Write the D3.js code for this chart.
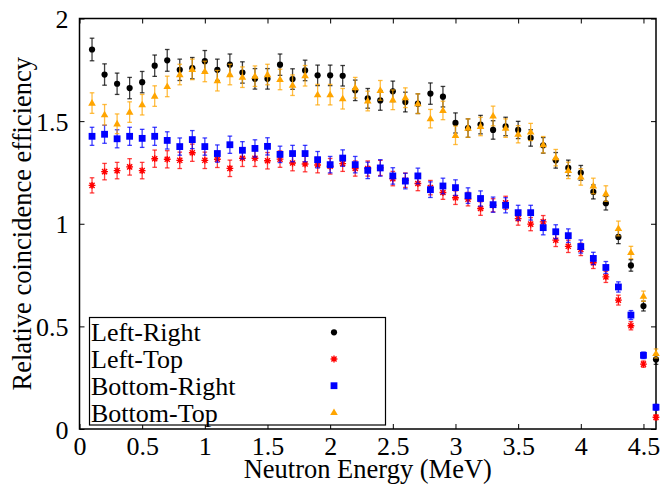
<!DOCTYPE html>
<html>
<head>
<meta charset="utf-8">
<script src="https://cdn.jsdelivr.net/npm/d3@7"></script>
<style>
  body { margin: 0; background: #fff; }
  svg { display: block; }
</style>
</head>
<body>
<div id="graph"></div>
<script>
// neutron energy bins (MeV)
const energy = [0.1, 0.2, 0.3, 0.4, 0.5, 0.6, 0.7, 0.8, 0.9, 1.0,
  1.1, 1.2, 1.3, 1.4, 1.5, 1.6, 1.7, 1.8, 1.9, 2.0,
  2.1, 2.2, 2.3, 2.4, 2.5, 2.6, 2.7, 2.8, 2.9, 3.0,
  3.1, 3.2, 3.3, 3.4, 3.5, 3.6, 3.7, 3.8, 3.9, 4.0,
  4.1, 4.2, 4.3, 4.4, 4.5, 4.6];

const leftRight = [1.849, 1.727, 1.682, 1.661, 1.690, 1.770, 1.796, 1.750, 1.758, 1.792,
  1.750, 1.775, 1.737, 1.706, 1.706, 1.775, 1.705, 1.747, 1.723, 1.723,
  1.721, 1.650, 1.611, 1.601, 1.645, 1.593, 1.585, 1.634, 1.619, 1.491,
  1.466, 1.483, 1.457, 1.474, 1.457, 1.418, 1.382, 1.309, 1.272, 1.248,
  1.155, 1.100, 0.936, 0.797, 0.599, 0.339];
const leftRightErr = [0.055, 0.052, 0.052, 0.052, 0.052, 0.052, 0.053, 0.052, 0.052, 0.052,
  0.052, 0.052, 0.052, 0.050, 0.050, 0.052, 0.050, 0.050, 0.050, 0.050,
  0.050, 0.050, 0.048, 0.048, 0.050, 0.048, 0.048, 0.052, 0.050, 0.049,
  0.045, 0.045, 0.045, 0.045, 0.042, 0.040, 0.038, 0.038, 0.038, 0.036,
  0.034, 0.033, 0.033, 0.028, 0.024, 0.024];

const leftTop = [1.187, 1.254, 1.259, 1.277, 1.259, 1.317, 1.314, 1.309, 1.346, 1.309,
  1.314, 1.270, 1.319, 1.319, 1.307, 1.315, 1.296, 1.291, 1.286, 1.280,
  1.293, 1.269, 1.269, 1.272, 1.220, 1.212, 1.196, 1.176, 1.152, 1.127,
  1.120, 1.074, 1.090, 1.102, 1.025, 0.998, 1.009, 0.920, 0.890, 0.875,
  0.810, 0.741, 0.628, 0.503, 0.316, 0.057];
const leftTopErr = [0.037, 0.040, 0.040, 0.040, 0.040, 0.042, 0.042, 0.040, 0.042, 0.040,
  0.040, 0.040, 0.040, 0.040, 0.040, 0.040, 0.038, 0.038, 0.038, 0.038,
  0.038, 0.037, 0.037, 0.037, 0.035, 0.035, 0.035, 0.035, 0.033, 0.033,
  0.033, 0.033, 0.032, 0.032, 0.032, 0.032, 0.031, 0.031, 0.030, 0.030,
  0.028, 0.027, 0.024, 0.020, 0.015, 0.012];

const bottomRight = [1.426, 1.436, 1.414, 1.426, 1.416, 1.426, 1.406, 1.376, 1.410, 1.376,
  1.342, 1.385, 1.358, 1.367, 1.377, 1.338, 1.342, 1.342, 1.312, 1.288,
  1.320, 1.288, 1.260, 1.272, 1.233, 1.208, 1.233, 1.166, 1.184, 1.176,
  1.137, 1.123, 1.093, 1.090, 1.054, 1.054, 0.981, 0.961, 0.942, 0.889,
  0.831, 0.787, 0.692, 0.555, 0.359, 0.106];
const bottomRightErr = [0.044, 0.044, 0.044, 0.044, 0.044, 0.044, 0.042, 0.042, 0.044, 0.042,
  0.042, 0.042, 0.042, 0.042, 0.042, 0.040, 0.040, 0.040, 0.040, 0.040,
  0.040, 0.040, 0.040, 0.040, 0.040, 0.038, 0.038, 0.038, 0.038, 0.038,
  0.038, 0.037, 0.037, 0.037, 0.036, 0.036, 0.035, 0.034, 0.033, 0.032,
  0.030, 0.029, 0.025, 0.022, 0.016, 0.014];

const bottomTop = [1.588, 1.531, 1.487, 1.544, 1.580, 1.622, 1.669, 1.727, 1.752, 1.742,
  1.697, 1.727, 1.714, 1.719, 1.727, 1.703, 1.675, 1.721, 1.629, 1.629,
  1.609, 1.663, 1.598, 1.650, 1.604, 1.614, 1.585, 1.512, 1.552, 1.431,
  1.466, 1.474, 1.525, 1.466, 1.436, 1.447, 1.385, 1.322, 1.260, 1.228,
  1.184, 1.147, 0.977, 0.860, 0.647, 0.368];
const bottomTopErr = [0.050, 0.050, 0.048, 0.050, 0.050, 0.050, 0.050, 0.050, 0.050, 0.050,
  0.050, 0.050, 0.050, 0.050, 0.050, 0.050, 0.050, 0.050, 0.050, 0.050,
  0.050, 0.050, 0.048, 0.048, 0.048, 0.048, 0.048, 0.045, 0.045, 0.045,
  0.045, 0.045, 0.048, 0.045, 0.042, 0.042, 0.040, 0.040, 0.040, 0.040,
  0.038, 0.038, 0.036, 0.030, 0.025, 0.022];

const xTicks = [0, 0.5, 1, 1.5, 2, 2.5, 3, 3.5, 4, 4.5];
const yTicks = [0, 0.5, 1, 1.5, 2];

const series = [
  {name: "Left-Right", values: leftRight, err: leftRightErr, color: "#000000", shape: "circle"},
  {name: "Left-Top", values: leftTop, err: leftTopErr, color: "#ff0000", shape: "star"},
  {name: "Bottom-Right", values: bottomRight, err: bottomRightErr, color: "#0000ff", shape: "square"},
  {name: "Bottom-Top", values: bottomTop, err: bottomTopErr, color: "#ffa500", shape: "triangle"}
];

const FONT = "'Liberation Serif', 'Times New Roman', Times, serif";

const W = 660, H = 485;
const margin = {top: 18.5, right: 4, bottom: 56, left: 79.5};
const width = W - margin.left - margin.right;
const height = H - margin.top - margin.bottom;

const x = d3.scaleLinear().domain([0, 4.6]).range([0, width]);
const y = d3.scaleLinear().domain([0, 2]).range([height, 0]);

const svg = d3.select("#graph").append("svg")
  .attr("width", W)
  .attr("height", H)
  .attr("font-family", FONT)
  .append("g")
  .attr("transform", "translate(" + margin.left + "," + margin.top + ")");

// axes with inward ticks, mirrored on top and right
const tickLen = 5;
svg.append("g")
  .attr("transform", "translate(0," + height + ")")
  .call(d3.axisBottom(x).tickValues(xTicks).tickSizeInner(-tickLen).tickSizeOuter(0).tickPadding(8).tickFormat(d3.format("")))
  .call(g => g.select(".domain").remove())
  .call(g => g.attr("font-family", FONT).attr("font-size", 26))
  .call(g => g.selectAll("text").attr("fill", "#000"));
svg.append("g")
  .call(d3.axisTop(x).tickValues(xTicks).tickSizeInner(-tickLen).tickSizeOuter(0).tickFormat(""))
  .call(g => g.select(".domain").remove());
svg.append("g")
  .call(d3.axisLeft(y).tickValues(yTicks).tickSizeInner(-tickLen).tickSizeOuter(0).tickPadding(11).tickFormat(d3.format("")))
  .call(g => g.select(".domain").remove())
  .call(g => g.attr("font-family", FONT).attr("font-size", 26))
  .call(g => g.selectAll("text").attr("fill", "#000").attr("dy", "0.35em"));
svg.append("g")
  .attr("transform", "translate(" + width + ",0)")
  .call(d3.axisRight(y).tickValues(yTicks).tickSizeInner(-tickLen).tickSizeOuter(0).tickFormat(""))
  .call(g => g.select(".domain").remove());

svg.selectAll(".tick line").attr("stroke", "#000").attr("stroke-width", 1);

svg.append("rect")
  .attr("width", width)
  .attr("height", height)
  .attr("fill", "none")
  .attr("stroke", "#000")
  .attr("stroke-width", 1.5);

// axis titles
svg.append("text")
  .attr("x", width / 2)
  .attr("y", height + 49)
  .attr("text-anchor", "middle")
  .attr("font-size", 26.5)
  .text("Neutron Energy (MeV)");
svg.append("text")
  .attr("transform", "translate(" + (31 - margin.left) + "," + (height / 2) + ") rotate(-90)")
  .attr("text-anchor", "middle")
  .attr("font-size", 26.5)
  .text("Relative coincidence efficiency");

// marker drawing
function drawMarker(g, shape, color) {
  if (shape === "circle") {
    g.append("circle").attr("r", 3.1).attr("fill", color);
  } else if (shape === "square") {
    g.append("rect").attr("x", -3.4).attr("y", -3.4).attr("width", 6.8).attr("height", 6.8).attr("fill", color);
  } else if (shape === "triangle") {
    g.append("path").attr("d", "M0,-4L3.8,2.6L-3.8,2.6Z").attr("fill", color);
  } else {
    const s = 3.4;
    g.append("path")
      .attr("d", `M${-s},0L${s},0M0,${-s}L0,${s}M${-s * 0.75},${-s * 0.75}L${s * 0.75},${s * 0.75}M${-s * 0.75},${s * 0.75}L${s * 0.75},${-s * 0.75}`)
      .attr("stroke", color).attr("stroke-width", 1.4).attr("fill", "none");
  }
}

// error bars + points
series.forEach(s => {
  const grp = svg.append("g");
  const pts = energy.map((e, i) => ({x: e, y: s.values[i], err: s.err[i]}));

  const bars = grp.selectAll(".bar").data(pts).enter().append("g")
    .attr("stroke", s.color)
    .attr("stroke-opacity", 0.75)
    .attr("stroke-width", 1.3);
  bars.append("line")
    .attr("x1", d => x(d.x)).attr("x2", d => x(d.x))
    .attr("y1", d => y(d.y - d.err)).attr("y2", d => y(d.y + d.err));
  bars.append("line")
    .attr("x1", d => x(d.x) - 2.3).attr("x2", d => x(d.x) + 2.3)
    .attr("y1", d => y(d.y + d.err)).attr("y2", d => y(d.y + d.err));
  bars.append("line")
    .attr("x1", d => x(d.x) - 2.3).attr("x2", d => x(d.x) + 2.3)
    .attr("y1", d => y(d.y - d.err)).attr("y2", d => y(d.y - d.err));

  grp.selectAll(".pt").data(pts).enter().append("g")
    .attr("transform", d => "translate(" + x(d.x) + "," + y(d.y) + ")")
    .each(function () { drawMarker(d3.select(this), s.shape, s.color); });
});

// legend
const legend = svg.append("g").attr("transform", "translate(" + (89.5 - margin.left) + "," + (317.5 - margin.top) + ")");
legend.append("rect")
  .attr("width", 296)
  .attr("height", 107.5)
  .attr("fill", "#fff")
  .attr("stroke", "#000")
  .attr("stroke-width", 1.2);
series.forEach((s, i) => {
  const cy = 14.8 + i * 26.7;
  legend.append("text")
    .attr("x", 1.5)
    .attr("y", cy)
    .attr("dy", "0.35em")
    .attr("font-size", 26)
    .text(s.name);
  const m = legend.append("g").attr("transform", "translate(" + (334 - 89.5) + "," + cy + ")");
  drawMarker(m, s.shape, s.color);
});
</script>
</body>
</html>
